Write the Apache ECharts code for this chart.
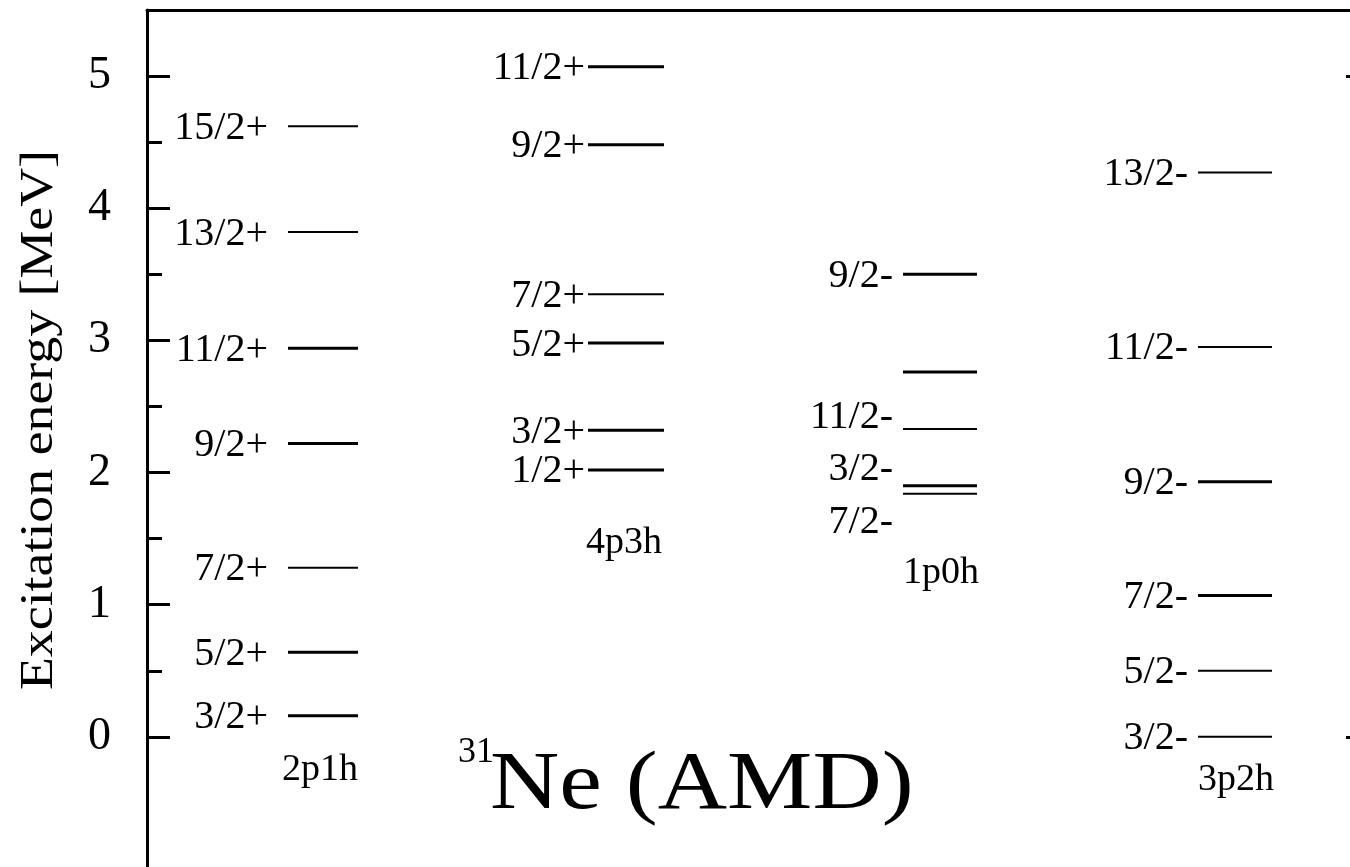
<!DOCTYPE html>
<html><head><meta charset="utf-8">
<script src="https://cdn.jsdelivr.net/npm/echarts@6/dist/echarts.min.js"></script>
<style>html,body{margin:0;padding:0;background:#fff}#c{width:1350px;height:867px}</style>
</head><body><div id="c"></div>
<script>
// ---- data ----
const bandNames = ['2p1h', '4p3h', '1p0h', '3p2h'];
const spins2p1h = ['15/2+', '13/2+', '11/2+', '9/2+', '7/2+', '5/2+', '3/2+'];
const energies2p1h = [4.62, 3.82, 2.94, 2.22, 1.28, 0.64, 0.16];
const spins4p3h = ['11/2+', '9/2+', '7/2+', '5/2+', '3/2+', '1/2+'];
const energies4p3h = [5.07, 4.48, 3.35, 2.98, 2.32, 2.02];
const spins1p0h = ['9/2-', '', '11/2-', '3/2-', '7/2-'];
const energies1p0h = [3.50, 2.76, 2.33, 1.90, 1.84];
const spins3p2h = ['13/2-', '11/2-', '9/2-', '7/2-', '5/2-', '3/2-'];
const energies3p2h = [4.27, 2.95, 1.93, 1.07, 0.50, 0.00];
const majorTicks = [0, 1, 2, 3, 4, 5];
const minorTicks = [0.5, 1.5, 2.5, 3.5, 4.5];
const rightTicks = [0, 5];
const yAxisTitle = 'Excitation energy [MeV]';
const nucleusMass = '31';
const nucleusTitle = 'Ne (AMD)';

// ---- layout (positions / styles) ----
const FONT = '"Liberation Serif","DejaVu Serif",serif';
const GRID = {left: 147, top: 10, width: 1222, height: 859};
const layout = [
  {center: 176, half: 35, gap: 20, dy: [0,0,0,0,0,0,0], width: [2,2,3,3,2,3,3], nameE: -0.25, nameDx: 0},
  {center: 479, half: 38, gap: 3, dy: [0,0,0,0,0,0], width: [3,3,2,3,3,3], nameE: 1.47, nameDx: -2},
  {center: 793, half: 37, gap: 10, dy: [0,0,-13,-18,27], width: [3,3,2,3,2], nameE: 1.24, nameDx: 2},
  {center: 1088, half: 37, gap: 10, dy: [0,0,0,0,0,0], width: [2,2,3,3,2,2], nameE: -0.33, nameDx: 2}
];
const bandSpins = [spins2p1h, spins4p3h, spins1p0h, spins3p2h];
const bandEnergies = [energies2p1h, energies4p3h, energies1p0h, energies3p2h];

const series = bandNames.map((name, b) => {
  const L = layout[b];
  return {
    type: 'custom',
    name: name,
    coordinateSystem: 'cartesian2d',
    clip: false,
    silent: true,
    encode: {x: 0, y: 1},
    data: bandEnergies[b].map((e, i) => [L.center, e, i]),
    renderItem: function (params, api) {
      const e = api.value(1), i = api.value(2);
      const p1 = api.coord([L.center - L.half, e]);
      const p2 = api.coord([L.center + L.half, e]);
      const children = [
        {type: 'line', shape: {x1: p1[0], y1: p1[1], x2: p2[0], y2: p2[1]},
         style: {stroke: '#000', lineWidth: L.width[i]}},
        {type: 'text', style: {text: bandSpins[b][i], x: p1[0] - L.gap, y: p1[1] + L.dy[i] + 2,
          align: 'right', verticalAlign: 'middle', font: '40px ' + FONT, fill: '#000'}}
      ];
      if (i === 0) {
        const pn = api.coord([L.center + L.half, L.nameE]);
        children.push({type: 'text', style: {text: name, x: pn[0] + L.nameDx, y: pn[1],
          align: 'right', verticalAlign: 'middle', font: '38px ' + FONT, fill: '#000'}});
      }
      return {type: 'group', children: children};
    }
  };
});

const chart = echarts.init(document.getElementById('c'), null, {renderer: 'canvas'});
chart.setOption({
  backgroundColor: '#fff',
  animation: false,
  grid: Object.assign({outerBoundsMode: 'none', containLabel: false}, GRID),
  xAxis: [
    {type: 'value', position: 'top', min: 0, max: GRID.width,
     axisLine: {show: true, onZero: false, lineStyle: {color: '#000', width: 3}},
     axisTick: {show: false}, axisLabel: {show: false}, splitLine: {show: false}},
    {type: 'value', position: 'bottom', min: 0, max: GRID.width, show: false}
  ],
  yAxis: [
    {type: 'value', position: 'left', min: -1, max: 5.5,
     axisLine: {show: true, onZero: false, lineStyle: {color: '#000', width: 3}},
     axisTick: {show: true, inside: true, length: 23, customValues: majorTicks, lineStyle: {color: '#000', width: 3}},
     axisLabel: {show: true, customValues: majorTicks, margin: 36, fontSize: 46, fontFamily: FONT, color: '#000'},
     splitLine: {show: false}},
    {type: 'value', position: 'left', min: -1, max: 5.5,
     axisLine: {show: false},
     axisTick: {show: true, inside: true, length: 15, customValues: minorTicks, lineStyle: {color: '#000', width: 3}},
     axisLabel: {show: false}, splitLine: {show: false}},
    {type: 'value', position: 'right', min: -1, max: 5.5,
     axisLine: {show: true, onZero: false, lineStyle: {color: '#000', width: 3}},
     axisTick: {show: true, inside: true, length: 23, customValues: rightTicks, lineStyle: {color: '#000', width: 3}},
     axisLabel: {show: false}, splitLine: {show: false}}
  ],
  graphic: [
    {type: 'text', x: 40, y: 420, rotation: Math.PI / 2, scaleX: 1.17,
     style: {text: yAxisTitle, font: '46px ' + FONT, fill: '#000', align: 'center', verticalAlign: 'middle'}},
    {type: 'text', x: 458, y: 735, style: {text: nucleusMass, font: '36px ' + FONT, fill: '#000'}},
    {type: 'text', x: 490, y: 745, scaleX: 1.17,
     style: {text: nucleusTitle, font: '82px ' + FONT, fill: '#000'}}
  ],
  series: series
});
</script>
</body></html>
